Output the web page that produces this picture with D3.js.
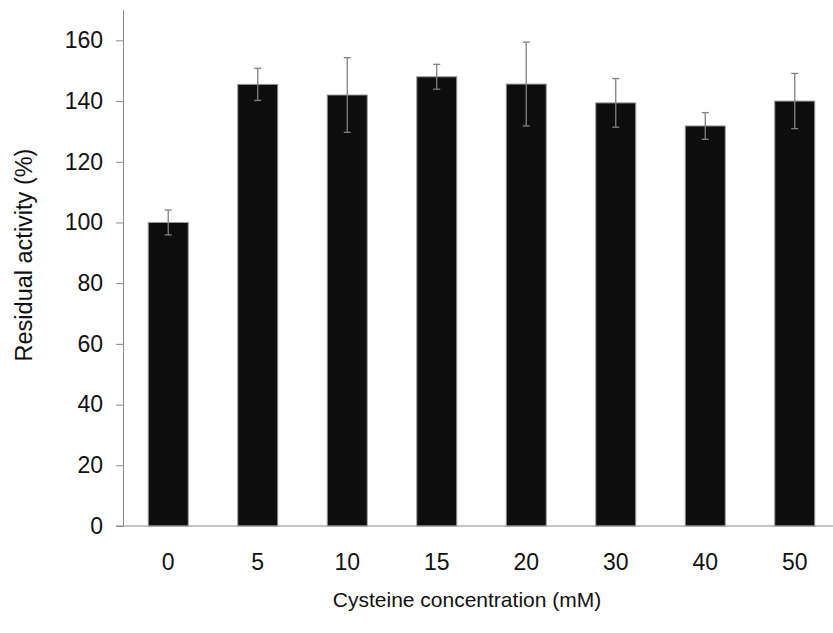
<!DOCTYPE html>
<html>
<head>
<meta charset="utf-8">
<script src="https://cdn.jsdelivr.net/npm/d3@7"></script>
<style>
    body { margin: 0; background: #ffffff; }
    svg { display: block; font-family: "Liberation Sans", Arial, sans-serif; }
</style>
</head>
<body>
<div id="chart"></div>
<script>

// categories (cysteine concentration, mM)
var categories = ["0", "5", "10", "15", "20", "30", "40", "50"];

// residual activity (%) and its error
var activity = [100, 145.5, 142, 148, 145.6, 139.4, 131.8, 140];
var errors = [4.1, 5.3, 12.3, 4.1, 13.8, 8.0, 4.4, 9.1];

// y tick labels
var yTicks = [0, 20, 40, 60, 80, 100, 120, 140, 160];

//  size of the overall svg element
var width = 833,
    height = 633;

// plot area (the band range runs past the right edge, like the cropped original)
var plotLeft = 123.5,
    plotRight = 839.5,
    plotTop = 10,
    plotBottom = 526;

var svg = d3.select("#chart")
    .append("svg")
    .attr("width", width)
    .attr("height", height);

var x = d3.scaleBand()
    .domain(categories)
    .range([plotLeft, plotRight])
    .paddingInner(0.553)
    .paddingOuter(0.2765);

var y = d3.scaleLinear()
    .domain([0, 170])
    .range([plotBottom, plotTop]);

var axisColor = "#8a8a8a";

// bars
svg.append("g")
    .selectAll("rect").data(activity)
    .enter().append("rect")
    .attr("x", function(d, i) { return x(categories[i]); })
    .attr("y", function(d) { return y(d); })
    .attr("width", x.bandwidth())
    .attr("height", function(d) { return y(0) - y(d); })
    .style("fill", "#0d0d0d")
    .style("stroke", "#9a9a9a")
    .style("stroke-width", 1);

// error bars
var err = svg.append("g")
    .selectAll("g").data(activity)
    .enter().append("g")
    .attr("transform", function(d, i) {
        return "translate(" + (x(categories[i]) + x.bandwidth() / 2) + ",0)";
    })
    .style("stroke", "#808080")
    .style("stroke-width", 1.3);

err.append("line")
    .attr("x1", 0).attr("x2", 0)
    .attr("y1", function(d, i) { return y(d + errors[i]); })
    .attr("y2", function(d, i) { return y(d - errors[i]); });

err.append("line")
    .attr("x1", -3.5).attr("x2", 3.5)
    .attr("y1", function(d, i) { return y(d + errors[i]); })
    .attr("y2", function(d, i) { return y(d + errors[i]); });

err.append("line")
    .attr("x1", -3.5).attr("x2", 3.5)
    .attr("y1", function(d, i) { return y(d - errors[i]); })
    .attr("y2", function(d, i) { return y(d - errors[i]); });

// y axis
var yAxis = svg.append("g")
    .attr("transform", "translate(" + plotLeft + ",0)")
    .call(d3.axisLeft(y).tickValues(yTicks).tickSize(7.5).tickPadding(13).tickSizeOuter(0));

yAxis.select(".domain").style("stroke", axisColor).attr("d", "M0," + plotTop + "V" + plotBottom);
yAxis.selectAll(".tick line").style("stroke", axisColor);
yAxis.selectAll(".tick text")
    .style("font-size", "23px")
    .style("fill", "#111")
    .style("font-family", "'Liberation Sans', Arial, sans-serif");

// x axis
var xAxis = svg.append("g")
    .attr("transform", "translate(0," + plotBottom + ")")
    .call(d3.axisBottom(x).tickSize(0).tickPadding(28).tickSizeOuter(0));

xAxis.select(".domain").style("stroke", axisColor).attr("d", "M" + (plotLeft - 7.5) + ",0H" + width);
xAxis.selectAll(".tick text")
    .style("font-size", "23px")
    .style("fill", "#111")
    .style("font-family", "'Liberation Sans', Arial, sans-serif");

// axis titles
svg.append("text")
    .attr("x", 467)
    .attr("y", 607)
    .attr("text-anchor", "middle")
    .style("font-size", "21px")
    .style("fill", "#111")
    .text("Cysteine concentration (mM)");

svg.append("text")
    .attr("transform", "translate(32,255) rotate(-90)")
    .attr("text-anchor", "middle")
    .style("font-size", "23.5px")
    .style("fill", "#111")
    .text("Residual activity (%)");

</script>
</body>
</html>
